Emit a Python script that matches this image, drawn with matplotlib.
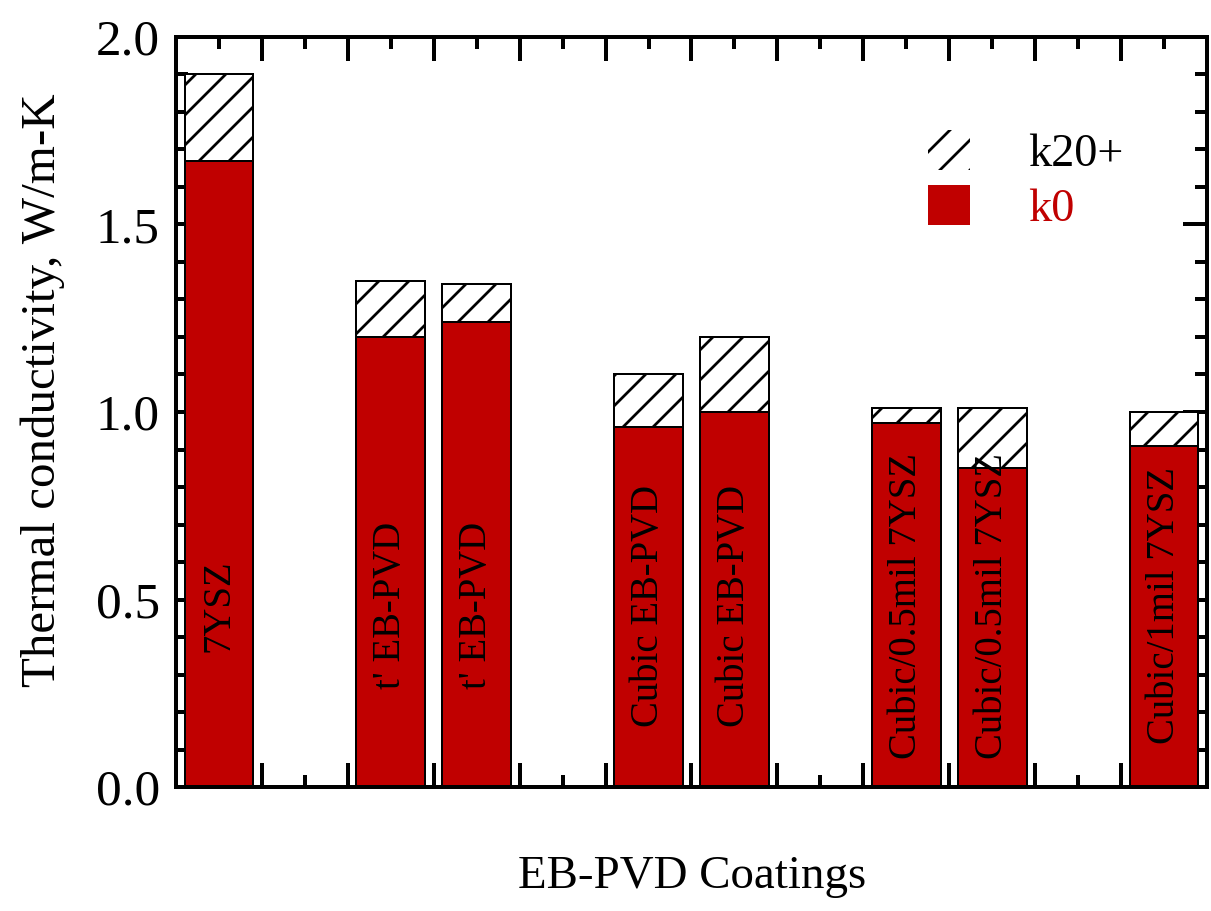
import matplotlib
matplotlib.use("Agg")
import matplotlib.pyplot as plt
from matplotlib.patches import Patch
from matplotlib.ticker import MultipleLocator, FormatStrFormatter

# coating slots along the x axis and their names
slots = [0.5, 2.5, 3.5, 5.5, 6.5, 8.5, 9.5, 11.5]
coatings = ["7YSZ", "t' EB-PVD", "t' EB-PVD", "Cubic EB-PVD", "Cubic EB-PVD",
            "Cubic/0.5mil 7YSZ", "Cubic/0.5mil 7YSZ", "Cubic/1mil 7YSZ"]

# thermal conductivity, W/m-K
k0 = [1.67, 1.20, 1.24, 0.96, 1.00, 0.97, 0.85, 0.91]
k20 = [1.90, 1.35, 1.34, 1.10, 1.20, 1.01, 1.01, 1.00]

red = "#c00000"

plt.rcParams["font.family"] = ["Liberation Serif", "DejaVu Serif"]
plt.rcParams["hatch.linewidth"] = 1.1
plt.rcParams["hatch.color"] = "black"

dpi = 180
fig = plt.figure(figsize=(1211 / dpi, 911 / dpi), dpi=dpi)
ax = fig.add_axes([0.1453, 0.1361, 0.8514, 0.8233])

growth = [t - b for t, b in zip(k20, k0)]
ax.bar(slots, k0, width=0.8, color=red, edgecolor="black", linewidth=0.8, zorder=2)
ax.bar(slots, growth, width=0.8, bottom=k0, color="white", edgecolor="black",
       linewidth=0.8, hatch="//", zorder=2)

for x, name in zip(slots, coatings):
    ax.text(x, 0.483, name, rotation=90, ha="center", va="center",
            fontsize=15.5, color="black", zorder=3)

ax.set_xlim(0, 12)
ax.set_ylim(0, 2.0)
ax.xaxis.set_major_locator(MultipleLocator(1))
ax.xaxis.set_minor_locator(MultipleLocator(0.5))
ax.yaxis.set_major_locator(MultipleLocator(0.5))
ax.yaxis.set_minor_locator(MultipleLocator(0.1))
ax.yaxis.set_major_formatter(FormatStrFormatter("%.1f"))
ax.set_xticklabels([])
ax.tick_params(which="both", direction="in", top=True, right=True, width=1.6)
ax.tick_params(which="major", length=9.6, labelsize=20.5, pad=6.4)
ax.tick_params(which="minor", length=4.8)
ax.tick_params(axis="x", labelbottom=False)
for s in ax.spines.values():
    s.set_linewidth(1.6)

ax.set_xlabel("EB-PVD Coatings", fontsize=18.8)
ax.set_ylabel("Thermal conductivity, W/m-K", fontsize=19.6)
ax.xaxis.set_label_coords(0.5005, -0.0907)
ax.yaxis.set_label_coords(-0.108, 0.529)

handles = [Patch(facecolor="white", edgecolor="black", linewidth=0, hatch="//"),
           Patch(facecolor=red, edgecolor=red, linewidth=0)]
leg = ax.legend(handles, ["k20+", "k0"], loc="upper left",
                bbox_to_anchor=(0.7294, 0.876), frameon=False, fontsize=18.5,
                handlelength=0.91, handleheight=0.95, handletextpad=1.25,
                labelspacing=0.2, borderpad=0, borderaxespad=0)
leg.get_texts()[1].set_color(red)

fig.savefig("out.png", dpi=dpi)
